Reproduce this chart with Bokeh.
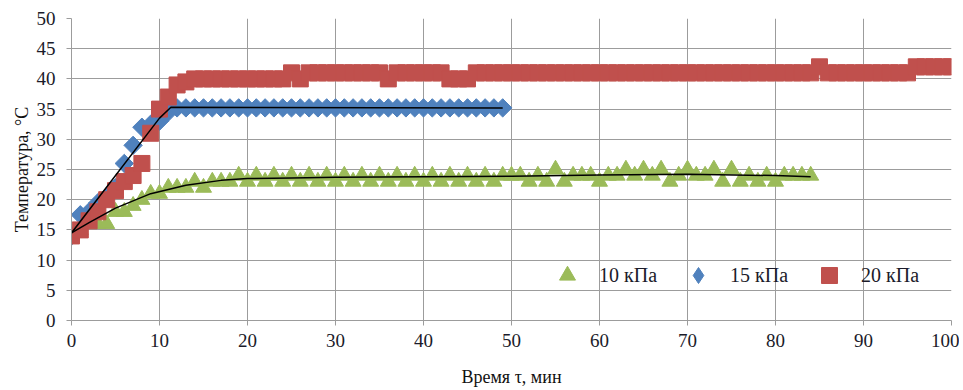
import math
from bokeh.plotting import figure
from bokeh.models import Range1d, Legend, LegendItem, FixedTicker
from bokeh.embed import file_html
from bokeh.resources import INLINE

# ---- data ----
t_10 = list(range(0, 85))
temp_10 = [14, 15, 16, 16, 16, 18, 18, 19, 20, 21,
           21, 22, 22, 22, 23, 22, 23, 23, 23, 24,
           23, 24, 23, 24, 23, 24, 23, 24, 23, 24,
           23, 24, 23, 24, 23, 24, 23, 24, 23, 24,
           23, 24, 23, 24, 23, 24, 23, 24, 23, 24,
           24, 24, 23, 24, 23, 25, 23, 24, 24, 24,
           23, 24, 24, 25, 24, 25, 24, 25, 23, 24,
           25, 24, 24, 25, 23, 25, 23, 24, 23, 24,
           23, 24, 24, 24, 24]

t_15 = list(range(0, 50))
temp_15 = [14, 17.5, 18, 19.5, 20.5, 22, 26, 29, 32, 32.5,
           33, 34.5, 35.2, 35.2, 35.2, 35.2, 35.2, 35.2, 35.2, 35.2,
           35.2, 35.2, 35.2, 35.2, 35.2, 35.2, 35.2, 35.2, 35.2, 35.2,
           35.2, 35.2, 35.2, 35.2, 35.2, 35.2, 35.2, 35.2, 35.2, 35.2,
           35.2, 35.2, 35.2, 35.2, 35.2, 35.2, 35.2, 35.2, 35.2, 35.2]

t_20 = list(range(0, 101))
temp_20 = [14, 15, 16.5, 18, 20, 21.5, 23, 24, 26, 31,
           35, 37, 39, 39.5, 40, 40, 40, 40, 40, 40,
           40, 40, 40, 40, 40, 41, 40, 41, 41, 41,
           41, 41, 41, 41, 41, 41, 40, 41, 41, 41,
           41, 41, 41, 40, 40, 40, 41, 41, 41, 41,
           41, 41, 41, 41, 41, 41, 41, 41, 41, 41,
           41, 41, 41, 41, 41, 41, 41, 41, 41, 41,
           41, 41, 41, 41, 41, 41, 41, 41, 41, 41,
           41, 41, 41, 41, 41, 42, 41, 41, 41, 41,
           41, 41, 41, 41, 41, 41, 42, 42, 42, 42,
           42]

# trend lines
fit15_t = [0, 10, 11.3, 49]
fit15_y = [14.5, 33.5, 35.3, 35.2]
fit10_t = [0, 2, 5, 9, 13, 17, 20, 25, 30, 40, 50, 60, 70, 80, 84]
fit10_y = [14.5, 16.2, 18.6, 21.0, 22.4, 23.2, 23.5, 23.6, 23.7, 23.8, 23.9, 24.1, 24.2, 24.0, 23.8]

x_ticks = [0, 10, 20, 30, 40, 50, 60, 70, 80, 90, 100]
y_ticks = [0, 5, 10, 15, 20, 25, 30, 35, 40, 45, 50]

labels = ["10 кПа", "15 кПа", "20 кПа"]
colors = ["#9BBB59", "#4F81BD", "#C0504D"]

FONT = "Liberation Serif"
TXT = "#1b1b2a"
GRID = "#9c9c9c"

p = figure(frame_width=880, frame_height=302, output_backend="svg", toolbar_location=None,
           x_range=Range1d(0, 100), y_range=Range1d(0, 50),
           min_border_left=71, min_border_right=8, min_border_top=18, min_border_bottom=68)
p.outline_line_color = None
p.background_fill_color = "white"

for ax, ticks in ((p.xaxis, x_ticks), (p.yaxis, y_ticks)):
    ax.ticker = FixedTicker(ticks=ticks)
    ax.axis_line_color = GRID
    ax.major_tick_line_color = GRID
    ax.minor_tick_line_color = None
    ax.major_tick_out = 5
    ax.major_tick_in = 0
    ax.major_label_text_font = FONT
    ax.major_label_text_font_size = "19px"
    ax.major_label_text_color = TXT
    ax.axis_label_text_font = FONT
    ax.axis_label_text_font_size = "18px"
    ax.axis_label_text_font_style = "normal"
    ax.axis_label_text_color = "#111111"

p.xaxis.major_label_standoff = 8
p.yaxis.major_label_standoff = 11
p.xaxis.axis_label = "Время τ, мин"
p.yaxis.axis_label = "Температура, °С"
p.xaxis.axis_label_standoff = 17
p.yaxis.axis_label_standoff = 2

p.xgrid.ticker = FixedTicker(ticks=x_ticks)
p.ygrid.ticker = FixedTicker(ticks=y_ticks)
for g in (p.xgrid, p.ygrid):
    g.grid_line_color = GRID
    g.grid_line_width = 1

r10 = p.scatter(t_10, temp_10, marker="triangle", size=16, fill_color=colors[0], line_color=colors[0])
r15 = p.scatter(t_15, temp_15, marker="square", angle=math.pi / 4, size=13,
                fill_color=colors[1], line_color=colors[1])
r20 = p.scatter(t_20, temp_20, marker="square", size=16, fill_color=colors[2], line_color=colors[2])

p.line(fit15_t, fit15_y, line_color="black", line_width=1.5)
p.line(fit10_t, fit10_y, line_color="black", line_width=1.5)

# hidden twin of the 15 kPa series, used only to show a diamond symbol in the legend
r15_leg = p.scatter(t_15, temp_15, marker="diamond", size=19,
                    fill_color=colors[1], line_color=colors[1], visible=False)

legend = Legend(items=[LegendItem(label=labels[0], renderers=[r10]),
                       LegendItem(label=labels[1], renderers=[r15_leg]),
                       LegendItem(label=labels[2], renderers=[r20])],
                orientation="horizontal", location=(476, 25),
                background_fill_alpha=0, border_line_alpha=0,
                inactive_fill_alpha=0,
                label_text_font=FONT, label_text_font_size="20px", label_text_color=TXT,
                glyph_width=40, glyph_height=40, label_standoff=12, spacing=21,
                padding=0, margin=0)
p.add_layout(legend, "center")

open("out.html", "w").write(file_html(p, INLINE))
